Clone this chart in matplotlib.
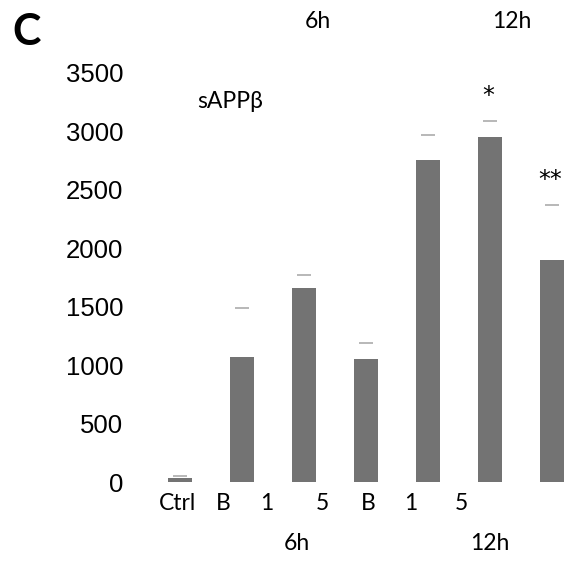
import matplotlib
matplotlib.use("Agg")
import matplotlib.pyplot as plt
import numpy as np

# ---- data ----
categories = ["Ctrl", "B 6h", "1 6h", "5 6h", "B 12h", "1 12h", "5 12h"]
values = [35, 1070, 1660, 1055, 2755, 2955, 1900]
err_upper = [15, 420, 112, 135, 215, 135, 470]
yticks = [0, 500, 1000, 1500, 2000, 2500, 3000, 3500]
cat_labels = ["Ctrl", "B", "1", "5", "B", "1", "5"]
cat_label_px = [178, 223, 267, 322, 368, 411, 461]
group_labels = ["6h", "12h"]
group_bottom_px = [297, 490]
group_top_px = [318, 512]
sig_labels = {5: "*", 6: "**"}

W, H = 565, 570
fig = plt.figure(figsize=(W / 100, H / 100), dpi=100)
fig.patch.set_facecolor("white")

# axes placement in pixels
left_px, right_px = 130, 565
base_px, top_px = 482, 73
ax = fig.add_axes([left_px / W, (H - base_px) / H,
                   (right_px - left_px) / W, (base_px - top_px) / H])

x = np.arange(len(values))
vals = np.array(values)
errs = np.array(err_upper)
ax.bar(x, vals, width=0.4, color="#737373", zorder=2)
# only upper caps of the error bars are visible
ax.plot(x, vals + errs, linestyle="none", marker="_", markersize=9.4,
        markeredgewidth=1.4, color="#b8b8b8", zorder=3, clip_on=False)

ax.set_xlim(-50 / 62, 385 / 62)
ax.set_ylim(0, 3500)
ax.set_yticks(yticks)
ax.set_yticklabels([str(v) for v in yticks], family="Liberation Sans", fontsize=18.5)
ax.tick_params(axis="y", length=0, pad=5)
ax.set_xticks([])
for s in ax.spines.values():
    s.set_visible(False)

def ftext(px, py, s, **kw):
    fig.text(px / W, 1 - py / H, s, ha="center", va="center", **kw)

ftext(27, 32, "C", family="Lato", fontsize=31, fontweight="bold")
ftext(230, 101, "sAPPβ", family=["Lato", "DejaVu Sans"], fontsize=16.5)

for lab, px in zip(cat_labels, cat_label_px):
    ftext(px, 504, lab, family="Lato", fontsize=16.5)
for lab, px in zip(group_labels, group_bottom_px):
    ftext(px, 543, lab, family="Lato", fontsize=16.5)
for lab, px in zip(group_labels, group_top_px):
    ftext(px, 21, lab, family="Lato", fontsize=16.5)

for i, s in sig_labels.items():
    ax.text(x[i] - 0.03, vals[i] + errs[i] + 110, s, ha="center", va="bottom",
            family="DejaVu Sans", fontsize=17, clip_on=False)

fig.savefig("out.png", dpi=100, facecolor="white")
